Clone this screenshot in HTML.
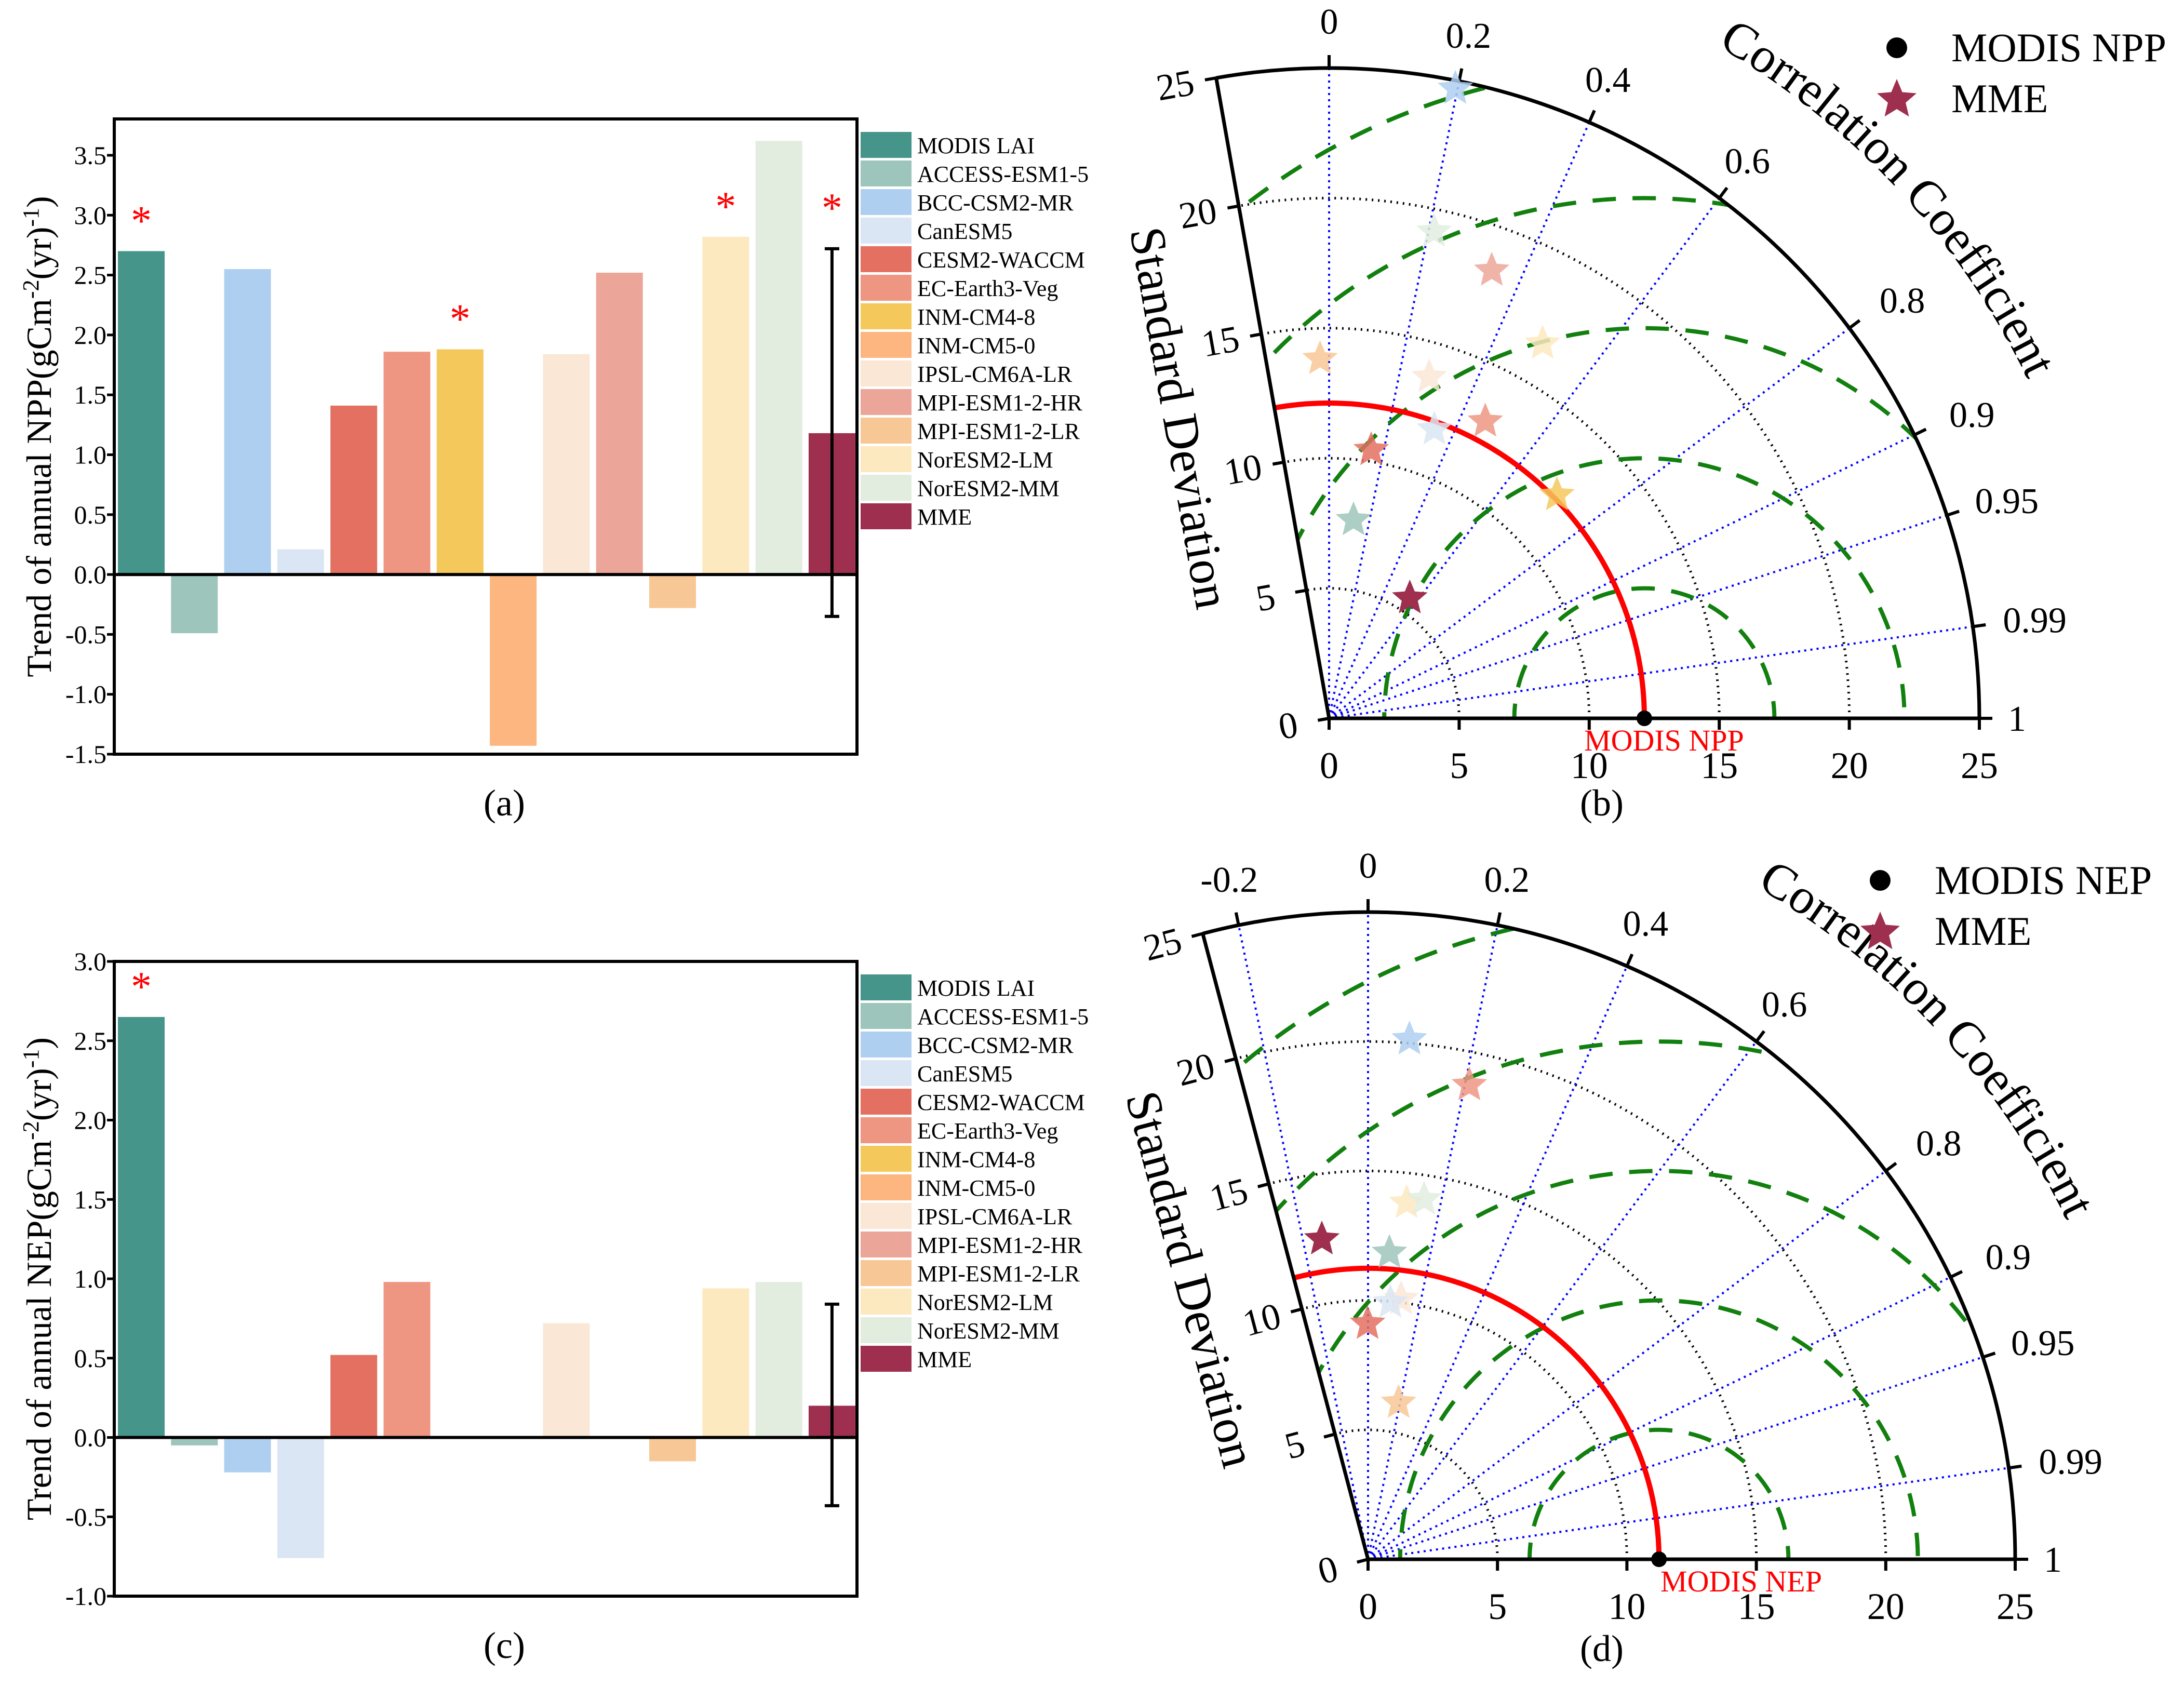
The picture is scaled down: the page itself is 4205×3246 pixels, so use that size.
<!DOCTYPE html>
<html><head><meta charset="utf-8"><style>
html,body{margin:0;padding:0;background:#fff;width:4205px;height:3246px;overflow:hidden;}
svg{display:block;font-family:"Liberation Serif","DejaVu Serif",serif;}
</style></head><body>
<svg id="fig" width="4205" height="3246" viewBox="0 0 4205 3246" xmlns="http://www.w3.org/2000/svg">
<defs>
<clipPath id="clipB"><path id="clipPathB" d=""/></clipPath>
<clipPath id="clipD"><path id="clipPathD" d=""/></clipPath>
</defs>
</svg>
<script>
// ---------- data ----------
const models = ["MODIS LAI","ACCESS-ESM1-5","BCC-CSM2-MR","CanESM5","CESM2-WACCM","EC-Earth3-Veg","INM-CM4-8","INM-CM5-0","IPSL-CM6A-LR","MPI-ESM1-2-HR","MPI-ESM1-2-LR","NorESM2-LM","NorESM2-MM","MME"];
const modelColors = ["#46958b","#9ec5bb","#aecff0","#dae6f3","#e37061","#ef9682","#f4c85a","#fdb67f","#fae7d6","#eca699","#f8c796","#fde9c0","#e2ede0","#9e2f4e"];
const nppValues = [2.70,-0.49,2.55,0.21,1.41,1.86,1.88,-1.43,1.84,2.52,-0.28,2.82,3.62,1.18];
const nppSig = [true,false,false,false,false,false,true,false,false,false,false,true,false,true];
const nppErr = [2.72,-0.35];
const nepValues = [2.65,-0.05,-0.22,-0.76,0.52,0.98,0,0,0.72,0,-0.15,0.94,0.98,0.20];
const nepSig = [true,false,false,false,false,false,false,false,false,false,false,false,false,false];
const nepErr = [0.84,-0.43];
const nppTicks = [3.5,3.0,2.5,2.0,1.5,1.0,0.5,0.0,-0.5,-1.0,-1.5];
const nepTicks = [3.0,2.5,2.0,1.5,1.0,0.5,0.0,-0.5,-1.0];

const taylorBModels = [2,12,9,10,11,8,3,5,4,6,1,13];
const taylorBStd = [24.77,19.22,18.39,13.9,16.65,13.75,11.9,12.97,10.52,12.32,7.76,5.63];
const taylorBCorr = [0.196,0.210,0.340,-0.025,0.493,0.280,0.340,0.463,0.154,0.711,0.121,0.551];
const taylorBRef = 12.12;
const taylorDModels = [2,5,11,12,13,1,8,3,4,10];
const taylorDStd = [20.23,18.81,13.93,14.15,12.57,11.95,10.21,10.04,9.18,6.24];
const taylorDCorr = [0.079,0.208,0.107,0.153,-0.142,0.069,0.125,0.086,-0.002,0.189];
const taylorDRef = 11.24;
const stdTicks = [0,5,10,15,20,25];
const corrTicksB = [0,0.2,0.4,0.6,0.8,0.9,0.95,0.99,1];
const corrTicksD = [-0.2,0,0.2,0.4,0.6,0.8,0.9,0.95,0.99,1];
const rmsRadii = [5,10,15,20,25];

const NS = "http://www.w3.org/2000/svg";
const svg = document.getElementById('fig');
function mk(tag, attrs, parent, text){
  const e = document.createElementNS(NS, tag);
  for (const k in attrs) e.setAttribute(k, attrs[k]);
  if (text !== undefined) e.textContent = text;
  (parent||svg).appendChild(e);
  return e;
}

// ---------- bar chart ----------
function barChart(cfg){
  const g = mk('g',{});
  
  
  const L=220, Rt=1650, top=cfg.top, bot=cfg.bot;
  const y = v => cfg.y0 + (v - cfg.v0) * (cfg.y1 - cfg.y0) / (cfg.v1 - cfg.v0);
  cfg.values.forEach((v,i)=>{
    const x = 227 + i*102.3;
    const r = mk('rect',{x:x, y:Math.min(y(v),y(0)), width:90, height:Math.abs(y(v)-y(0)), fill:modelColors[i]}, g);
    
    
    if (cfg.sig[i]){
      const top2 = Math.max(v,0);
      const ys = (i===13) ? y(cfg.err[0]) - 100 : y(top2) - 80;
      const s = mk('text',{x:x+45, y:ys+48, 'text-anchor':'middle', fill:'#ff0000', 'font-size':80}, g, '*');
      
      
    }
  });
  const ex = 227 + 13*102.3 + 45;
  const eb = mk('path',{d:`M${ex},${y(cfg.err[0])}V${y(cfg.err[1])}M${ex-14},${y(cfg.err[0])}H${ex+14}M${ex-14},${y(cfg.err[1])}H${ex+14}`, stroke:'#000','stroke-width':6, fill:'none'}, g);
  
  
  mk('line',{x1:L,x2:Rt,y1:y(0),y2:y(0),stroke:'#000','stroke-width':6}, g);
  const bx = mk('rect',{x:L,y:top,width:Rt-L,height:bot-top,fill:'none',stroke:'#000','stroke-width':6}, g);
  
  
  cfg.ticks.forEach(t=>{
    mk('line',{x1:L-14,x2:L,y1:y(t),y2:y(t),stroke:'#000','stroke-width':5}, g);
    const tl = mk('text',{x:205,y:y(t)+17,'text-anchor':'end','font-size':50}, g, t.toFixed(1));
    
    
  });
  const cy = (top+bot)/2;
  const yt = mk('text',{x:0,y:0,'text-anchor':'middle','font-size':68,transform:`translate(98,${cy}) rotate(-90)`}, g);
  
  
  mk('tspan',{},yt,'Trend of annual '+cfg.var+'(gCm');
  mk('tspan',{'baseline-shift':'super','font-size':44},yt,'-2');
  mk('tspan',{},yt,'(yr)');
  mk('tspan',{'baseline-shift':'super','font-size':44},yt,'-1');
  mk('tspan',{},yt,')');
  models.forEach((m,i)=>{
    const ly = top + 25 + i*55;
    const sw = mk('rect',{x:1657,y:ly,width:98,height:50,fill:modelColors[i]}, g);
    
    
    const lt = mk('text',{x:1766,y:ly+41,'font-size':44}, g, m);
    
    
  });
  const pl = mk('text',{x:971,y:cfg.panelY,'text-anchor':'middle','font-size':72}, g, cfg.panel);
  
  
}

barChart({name:'npp-bar-chart', var:'NPP', top:229, bot:1452, y0:299, v0:3.5, y1:1452, v1:-1.5, values:nppValues, sig:nppSig, err:nppErr, ticks:nppTicks, panel:'(a)', panelY:1570});
barChart({name:'nep-bar-chart', var:'NEP', top:1851, bot:3073, y0:1851, v0:3.0, y1:3073, v1:-1.0, values:nepValues, sig:nepSig, err:nepErr, ticks:nepTicks, panel:'(c)', panelY:3192});

// ---------- Taylor ----------
function starPath(cx,cy,ro){
  const ri = ro*0.45; let d='';
  for(let k=0;k<10;k++){
    const a = -Math.PI/2 + k*Math.PI/5;
    const r = k%2===0?ro:ri;
    d += (k?'L':'M') + (cx+r*Math.cos(a)).toFixed(1)+','+(cy+r*Math.sin(a)).toFixed(1);
  }
  return d+'Z';
}
function taylor(cfg){
  const g = mk('g',{});
  
  
  const ox=cfg.ox, oy=cfg.oy, R=cfg.R, s=R/25;
  const amax = cfg.leftDeg*Math.PI/180;
  const P = (r,a)=>[ox + r*s*Math.cos(a), oy - r*s*Math.sin(a)];
  const arc = (r,a0,a1)=>{const p0=P(r,a0),p1=P(r,a1);return `M${p0[0]},${p0[1]}A${r*s},${r*s} 0 0 0 ${p1[0]},${p1[1]}`;};
  const lp = P(25,amax);
  document.getElementById(cfg.clipPathId).setAttribute('d', `M${ox},${oy}L${ox+R},${oy}A${R},${R} 0 0 0 ${lp[0]},${lp[1]}Z`);
  [5,10,15,20].forEach(r=>mk('path',{d:arc(r,0,amax),fill:'none',stroke:'#000','stroke-width':5,'stroke-dasharray':'3 9'},g));
  cfg.corrTicks.filter(c=>c<1).forEach(c=>{
    const p=P(25,Math.acos(c));
    mk('line',{x1:ox,y1:oy,x2:p[0],y2:p[1],stroke:'#0000ff','stroke-width':4,'stroke-dasharray':'4 8'},g);
  });
  const cg = mk('g',{'clip-path':`url(#${cfg.clipId})`},g);
  rmsRadii.forEach(r=>{
    const c = mk('circle',{cx:ox+cfg.ref*s,cy:oy,r:r*s,fill:'none',stroke:'#12800f','stroke-width':8,'stroke-dasharray':'45 32'},cg);
    
    
  });
  const ra = mk('path',{d:arc(cfg.ref,0,amax),fill:'none',stroke:'#ff0000','stroke-width':10},g);
  
  
  mk('path',{d:arc(25,0,amax),fill:'none',stroke:'#000','stroke-width':7},g);
  mk('line',{x1:ox,y1:oy,x2:ox+R,y2:oy,stroke:'#000','stroke-width':7},g);
  mk('line',{x1:ox,y1:oy,x2:lp[0],y2:lp[1],stroke:'#000','stroke-width':7},g);
  const perp = amax + Math.PI/2;
  stdTicks.forEach(t=>{
    const x = ox+t*s;
    mk('line',{x1:x,y1:oy,x2:x,y2:oy+22,stroke:'#000','stroke-width':6},g);
    const xl = mk('text',{x:x,y:oy+115,'text-anchor':'middle','font-size':72},g,String(t));
    
    
    const p = P(t,amax);
    mk('line',{x1:p[0],y1:p[1],x2:p[0]+22*Math.cos(perp),y2:p[1]-22*Math.sin(perp),stroke:'#000','stroke-width':6},g);
    const lx = p[0]+80*Math.cos(perp), ly = p[1]-80*Math.sin(perp);
    const yl = mk('text',{x:0,y:0,'text-anchor':'middle','font-size':72,transform:`translate(${lx},${ly}) rotate(${-(cfg.leftDeg-90)}) translate(0,24)`},g,String(t));
    
    
  });
  cfg.corrTicks.forEach(c=>{
    const a=Math.acos(c);
    const p=P(25,a), q=[ox+(R+25)*Math.cos(a), oy-(R+25)*Math.sin(a)];
    mk('line',{x1:p[0],y1:p[1],x2:q[0],y2:q[1],stroke:'#000','stroke-width':6},g);
    const lr = R + (c===1?45:90);
    const lx = ox+lr*Math.cos(a), ly = oy-lr*Math.sin(a);
    const ct = mk('text',{x:lx + (c===1?10:0) + (c>=0.8&&c<1?30:0),y:ly+24,'text-anchor':c===1?'start':'middle','font-size':70},g,String(c));
    
    
  });
  cfg.std.forEach((sd,i)=>{
    const p = P(sd, Math.acos(cfg.corr[i]));
    const st = mk('path',{d:starPath(p[0],p[1]+4,36),fill:modelColors[cfg.models[i]],'fill-opacity':cfg.models[i]===13?1:0.85},g);
    
    
  });
  const rp = mk('circle',{cx:ox+cfg.ref*s,cy:oy,r:15,fill:'#000'},g);
  
  
  const rl = mk('text',{x:cfg.refLabelX,y:oy+62,'font-size':58,fill:'#ff0000'},g,cfg.refLabel);
  
  
  const sdt = mk('text',{x:0,y:0,'text-anchor':'middle','font-size':96,transform:`translate(${cfg.sdX},${cfg.sdY}) rotate(${180-cfg.leftDeg})`},g,'Standard Deviation');
  
  
  const rr = 1495, a0 = 60*Math.PI/180, a1 = 18*Math.PI/180;
  const pid = cfg.name+'-ccpath';
  mk('path',{id:pid,d:`M${ox+rr*Math.cos(a0)},${oy-rr*Math.sin(a0)}A${rr},${rr} 0 0 1 ${ox+rr*Math.cos(a1)},${oy-rr*Math.sin(a1)}`,fill:'none'},g);
  const cct = mk('text',{'font-size':96},g);
  
  
  mk('textPath',{href:'#'+pid, startOffset:'0'},cct,'Correlation Coefficient');
  const ld = mk('circle',{cx:cfg.legX,cy:cfg.legY,r:20,fill:'#000'},g);
  
  
  const lt1 = mk('text',{x:cfg.legX+105,y:cfg.legY+26,'font-size':78},g,cfg.refLabel);
  
  
  const ls = mk('path',{d:starPath(cfg.legX,cfg.legY+100,40),fill:'#9e2f4e'},g);
  
  
  const lt2 = mk('text',{x:cfg.legX+105,y:cfg.legY+124,'font-size':78},g,'MME');
  
  
  const pl = mk('text',{x:3084,y:cfg.panelY,'text-anchor':'middle','font-size':72},g,cfg.panel);
  
  
}

taylor({name:'npp-taylor-diagram', ox:2559, oy:1383, R:1252, leftDeg:100, ref:taylorBRef, models:taylorBModels, std:taylorBStd, corr:taylorBCorr, corrTicks:corrTicksB, clipId:'clipB', clipPathId:'clipPathB', refLabel:'MODIS NPP', refLabelX:3050, sdX:2240, sdY:810, legX:3652, legY:92, panel:'(b)', panelY:1570});
taylor({name:'nep-taylor-diagram', ox:2634, oy:3002, R:1246, leftDeg:104.8, ref:taylorDRef, models:taylorDModels, std:taylorDStd, corr:taylorDCorr, corrTicks:corrTicksD, clipId:'clipD', clipPathId:'clipPathD', refLabel:'MODIS NEP', refLabelX:3197, sdX:2262, sdY:2471, legX:3620, legY:1695, panel:'(d)', panelY:3198});
</script>
</body></html>
